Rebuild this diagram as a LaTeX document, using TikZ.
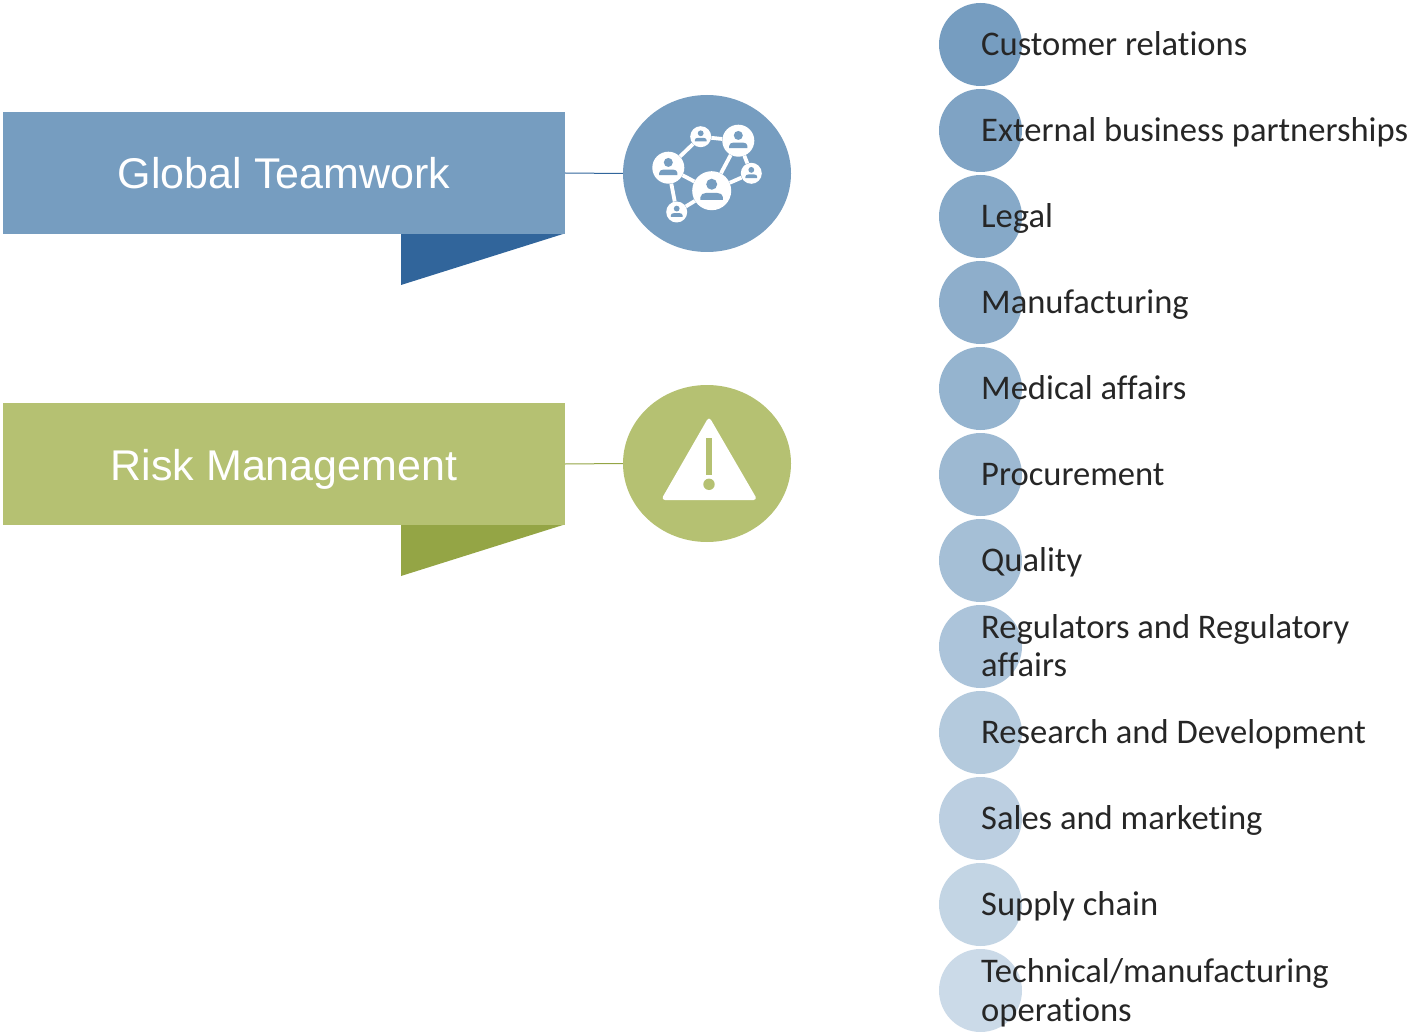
\documentclass[tikz,border=0pt]{standalone}
\usepackage{fontspec}
\setmainfont{Carlito}[Ligatures=CommonOff]
\newfontfamily\headfont{Liberation Sans}
\usetikzlibrary{shapes.geometric}
\definecolor{teamblue}{HTML}{769DC0}
\definecolor{teamdark}{HTML}{31659B}
\definecolor{riskgreen}{HTML}{B5C172}
\definecolor{riskdark}{HTML}{94A545}
\definecolor{listend}{HTML}{CBDAE8}
\definecolor{listtext}{HTML}{262626}
\tikzset{
  banner/.style={rectangle,minimum width=562,minimum height=122,inner sep=0pt,text=white,text height=32pt,text depth=0pt,font=\headfont\fontsize{43}{50}\selectfont},
  badge/.style={ellipse,minimum width=168,minimum height=157,inner sep=0pt},
  link/.style={line width=1pt},
  listdot/.style={circle,minimum size=83,inner sep=0pt},
  listlabel/.style={anchor=base west,inner sep=0pt,text=listtext,font=\fontsize{34.55}{38.5}\selectfont},
  hub/.style={circle,fill=white,inner sep=0pt},
  spoke/.style={draw=white,line width=3.8pt},
  pics/person/.style={code={
    \fill[teamblue] (0,-0.34*#1) circle[radius=0.29*#1];
    \fill[teamblue] (-0.59*#1,0.48*#1) -- (-0.59*#1,0.34*#1) .. controls (-0.59*#1,0.2*#1) and (-0.45*#1,0.12*#1) .. (-0.3*#1,0.12*#1) -- (0.3*#1,0.12*#1) .. controls (0.45*#1,0.12*#1) and (0.59*#1,0.2*#1) .. (0.59*#1,0.34*#1) -- (0.59*#1,0.48*#1) -- cycle;
  }}
}
\begin{document}
\begin{tikzpicture}[x=1pt,y=-1pt]
\useasboundingbox (0,0) rectangle (1411,1032);
% banners
\fill[teamdark] (401,234) -- (563,234) -- (401,285) -- cycle;
\fill[riskdark] (401,525) -- (563,525) -- (401,576) -- cycle;
\node[banner,fill=teamblue] (team) at (284,173) {Global Teamwork};
\node[banner,fill=riskgreen] (risk) at (284,464) {Risk Management};
\node[badge,fill=teamblue] (teamicon) at (707,173.5) {};
\node[badge,fill=riskgreen] (riskicon) at (707,463.5) {};
\draw[link,teamdark] (team.east) -- (teamicon.west);
\draw[link,riskdark] (risk.east) -- (riskicon.west);
% network icon
\node[hub,minimum size=39] (n1) at (711.7,190.7) {};
\node[hub,minimum size=32] (n2) at (668.3,167.7) {};
\node[hub,minimum size=21] (n3) at (700.7,136.7) {};
\node[hub,minimum size=32] (n4) at (738.3,140.7) {};
\node[hub,minimum size=21] (n5) at (751.3,173.3) {};
\node[hub,minimum size=21] (n6) at (676.7,212) {};
\draw[spoke] (n2) -- (n3);
\draw[spoke] (n3) -- (n4);
\draw[spoke] (n4) -- (n1);
\draw[spoke] (n4) -- (n5);
\draw[spoke] (n5) -- (n1);
\draw[spoke] (n1) -- (n2);
\draw[spoke] (n2) -- (n6);
\draw[spoke] (n6) -- (n1);
\pic at (n1) {person=19};
\pic at (n2) {person=15.5};
\pic at (n3) {person=10};
\pic at (n4) {person=15.5};
\pic at (n5) {person=10};
\pic at (n6) {person=10};
% warning icon
\fill[white,rounded corners=4pt] (709,416.5) -- (757.5,500) -- (661,500) -- cycle;
\fill[riskgreen] (705.8,437.7) rectangle (712.2,475);
\node[circle,fill=riskgreen,minimum size=11.4,inner sep=0pt] (warndot) at (709,484.3) {};
% list
\foreach \i/\y/\t in {
  1/44.5/{Customer relations},
  2/130.5/{External business partnerships},
  3/216.5/{Legal},
  4/302.5/{Manufacturing},
  5/388.5/{Medical affairs},
  6/474.5/{Procurement},
  7/560.5/{Quality},
  8/646.5/{},
  9/732.5/{Research and Development},
  10/818.5/{Sales and marketing},
  11/904.5/{Supply chain},
  12/990.5/{}}{
  \pgfmathtruncatemacro{\pct}{100-(\i-1)*100/11}
  \colorlet{dotcol}{teamblue!\pct!listend}
  \node[listdot,fill=dotcol] (dot\i) at (980.5,\y) {};
  \node[listlabel] (label\i) at (981,\y+11) {\t};
}
\node[listlabel] (label8a) at (981,638.5) {Regulators and Regulatory};
\node[listlabel] (label8b) at (981,676.5) {affairs};
\node[listlabel] (label12a) at (981,982.5) {Technical/manufacturing};
\node[listlabel] (label12b) at (981,1021) {operations};
\end{tikzpicture}
\end{document}
